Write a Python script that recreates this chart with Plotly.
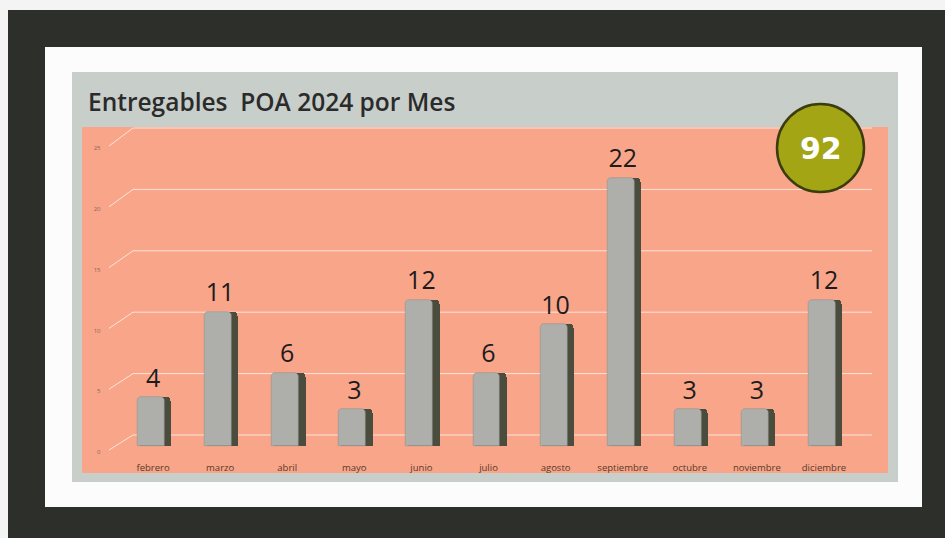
import plotly.graph_objects as go

# ---------------- data ----------------
months = ["febrero", "marzo", "abril", "mayo", "junio", "julio",
          "agosto", "septiembre", "octubre", "noviembre", "diciembre"]
values = [4, 11, 6, 3, 12, 6, 10, 22, 3, 3, 12]
y_ticks = [0, 5, 10, 15, 20, 25]
title_text = "Entregables  POA 2024 por Mes"
total = sum(values)

# ---------------- layout helpers ----------------
W, H = 945, 538
def fx(px):
    return px / W
def fy(py):
    return 1 - py / H

PLOT_L, PLOT_R = 119.5, 857.5
PLOT_T, PLOT_B = 127, 460

# axis scales (pixel of value 0, pixels per unit)
BAR_ZERO, BAR_UNIT = 446, 12.2      # bars (front)
BACK_ZERO, BACK_UNIT = 435, 12.28   # back wall gridlines
LAB_ZERO, LAB_UNIT = 452, 12.16     # tick labels (front-left)

def axis_range(zero, unit):
    return [(zero - PLOT_B) / unit, (zero - PLOT_T) / unit]

DARK = "#2d2f2b"
PANEL_GREY = "#c8ceca"
SALMON = "#f8a58a"
FRONT = "#aeafab"
SIDE = "#4a4c3e"

fig = go.Figure()

fig.add_trace(go.Bar(
    x=months, y=values, width=0.47, offset=-0.205,
    marker=dict(color=SIDE, line=dict(width=0), cornerradius=4),
    hoverinfo="skip", showlegend=False,
))
fig.add_trace(go.Bar(
    x=months, y=values, width=0.40, offset=-0.23,
    marker=dict(color=FRONT, line=dict(color="#92938f", width=0.6), cornerradius=4),
    showlegend=False,
))
# value labels
fig.add_trace(go.Scatter(
    x=months, y=values, mode="markers+text", text=[str(v) for v in values],
    textposition="top center", cliponaxis=False,
    marker=dict(size=5, opacity=0),
    textfont=dict(family="Open Sans", size=25, color="#1c1c1c"),
    hoverinfo="skip", showlegend=False,
))
# carrier for the front-left tick label axis
fig.add_trace(go.Scatter(
    x=[months[0]], y=[y_ticks[0]], yaxis="y3", mode="markers",
    marker=dict(size=1, opacity=0), hoverinfo="skip", showlegend=False,
))

shapes = [
    dict(type="rect", xref="paper", yref="paper", x0=fx(8), x1=fx(945), y0=fy(538), y1=fy(10),
         fillcolor=DARK, line=dict(width=0), layer="below"),
    dict(type="rect", xref="paper", yref="paper", x0=fx(45), x1=fx(922), y0=fy(507), y1=fy(47),
         fillcolor="#fbfcfb", line=dict(width=0), layer="below"),
    dict(type="rect", xref="paper", yref="paper", x0=fx(72), x1=fx(898), y0=fy(482), y1=fy(72),
         fillcolor=PANEL_GREY, line=dict(width=0), layer="below"),
    dict(type="rect", xref="paper", yref="paper", x0=fx(82), x1=fx(888), y0=fy(473), y1=fy(127),
         fillcolor=SALMON, line=dict(width=0), layer="below"),
]

px_span = PLOT_R - PLOT_L
def pxp(px):
    return (px - PLOT_L) / px_span
for v in y_ticks:
    shapes.append(dict(type="line", xref="x domain", yref="y2",
                       x0=pxp(133), x1=pxp(872), y0=v, y1=v,
                       line=dict(color="rgba(255,255,255,0.7)", width=1), layer="below"))
    front_py = LAB_ZERO - LAB_UNIT * v - 2
    front_v2 = (BACK_ZERO - front_py) / BACK_UNIT
    shapes.append(dict(type="line", xref="x domain", yref="y2",
                       x0=pxp(109), x1=pxp(133), y0=front_v2, y1=v,
                       line=dict(color="rgba(255,255,255,0.7)", width=1), layer="below"))

shapes.append(dict(type="circle", xref="paper", yref="paper",
                   x0=fx(777), x1=fx(864), y0=fy(192), y1=fy(104),
                   fillcolor="#a3a514", line=dict(color="#3c3d0e", width=2.5)))

annotations = [
    dict(text=title_text, xref="paper", yref="paper", x=fx(86), y=fy(101),
         xanchor="left", yanchor="middle", showarrow=False,
         font=dict(family="Open Sans", size=24.5, color="#2b2b2b", weight=600)),
    dict(text=str(total), xref="paper", yref="paper", x=fx(821), y=fy(149),
         xanchor="center", yanchor="middle", showarrow=False,
         font=dict(family="DejaVu Sans", size=30, color="#ffffff", weight="bold")),
]

fig.update_layout(
    width=W, height=H,
    margin=dict(l=0, r=0, t=0, b=0),
    paper_bgcolor="#f4f4f4",
    plot_bgcolor="rgba(0,0,0,0)",
    barmode="overlay",
    bargap=0,
    shapes=shapes,
    annotations=annotations,
    showlegend=False,
    xaxis=dict(domain=[fx(PLOT_L), fx(PLOT_R)], type="category",
               range=[-0.5, len(months) - 0.5],
               showgrid=False, zeroline=False, showline=False, ticks="",
               tickfont=dict(family="Open Sans", size=9.5, color="#5a3a26")),
    yaxis=dict(domain=[fy(PLOT_B), fy(PLOT_T)], range=axis_range(BAR_ZERO, BAR_UNIT),
               showgrid=False, zeroline=False, showticklabels=False),
    yaxis2=dict(overlaying="y", anchor="x", range=axis_range(BACK_ZERO, BACK_UNIT),
                visible=False),
    yaxis3=dict(overlaying="y", anchor="x", side="left", range=axis_range(LAB_ZERO, LAB_UNIT),
                tickvals=y_ticks, showgrid=False, zeroline=False, showline=False,
                ticks="", ticklabelstandoff=18,
                tickfont=dict(family="Open Sans", size=6, color="#8a6656")),
)

fig.write_html("out.html",
               config={"displayModeBar": False},
               post_script="document.body.style.margin='0';document.body.style.padding='0';")
